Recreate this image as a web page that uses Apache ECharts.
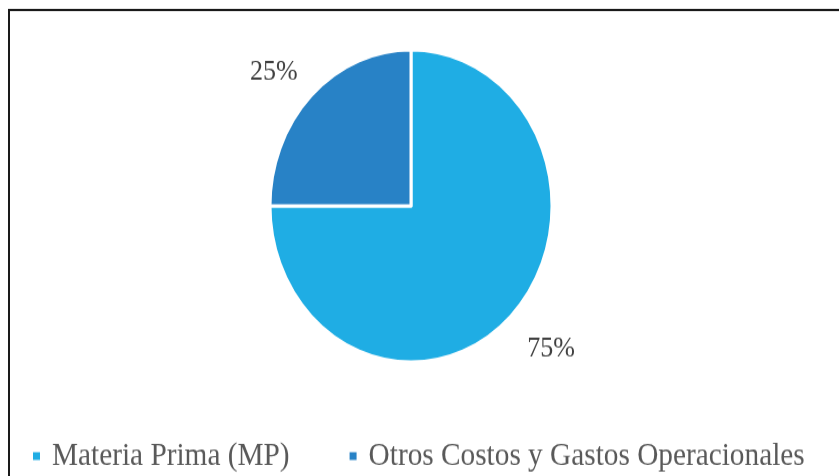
<!DOCTYPE html>
<html>
<head>
<meta charset="utf-8">
<script src="https://cdn.jsdelivr.net/npm/echarts@6/dist/echarts.min.js"></script>
<style>
html,body{margin:0;padding:0;background:#fff;overflow:hidden;width:839px;height:476px;}
#c{width:839px;height:430px;transform:scaleY(1.10698);transform-origin:0 0;}
</style>
</head>
<body>
<div id="c"></div>
<script>
const categories = ["Materia Prima (MP)", "Otros Costos y Gastos Operacionales"];
const values = [75, 25];
const colors = ["#1fade4", "#2882c6"];

const labelShift = [[-4, 14], [7, -6]];

const chart = echarts.init(document.getElementById('c'), null, {renderer: 'canvas'});
chart.setOption({
  backgroundColor: '#fff',
  animation: false,
  graphic: [{
    type: 'rect',
    shape: {x: 9, y: 9, width: 860, height: 500},
    style: {fill: 'none', stroke: '#1a1a1a', lineWidth: 2}
  }],
  legend: {
    data: categories,
    left: 26,
    top: 392,
    itemWidth: 9,
    itemHeight: 9,
    itemGap: 58,
    icon: 'rect',
    textStyle: {fontFamily: 'Liberation Serif', fontSize: 29.3, color: '#595959', lineHeight: 30, padding: [0, 0, 0, 6]}
  },
  series: [{
    type: 'pie',
    center: [411, 186],
    radius: 141,
    startAngle: 90,
    clockwise: true,
    data: categories.map((n, i) => ({name: n, value: values[i], itemStyle: {color: colors[i]}})),
    itemStyle: {borderColor: '#fff', borderWidth: 3},
    label: {
      show: true,
      position: 'outside',
      formatter: '{d}%',
      fontFamily: 'Liberation Serif',
      fontSize: 26,
      color: '#404040'
    },
    labelLine: {show: false, length: 22, length2: 0},
    labelLayout: function (p) {
      const s = labelShift[p.dataIndex];
      return {dx: s[0], dy: s[1]};
    },
    emphasis: {disabled: true}
  }]
});
</script>
</body>
</html>
